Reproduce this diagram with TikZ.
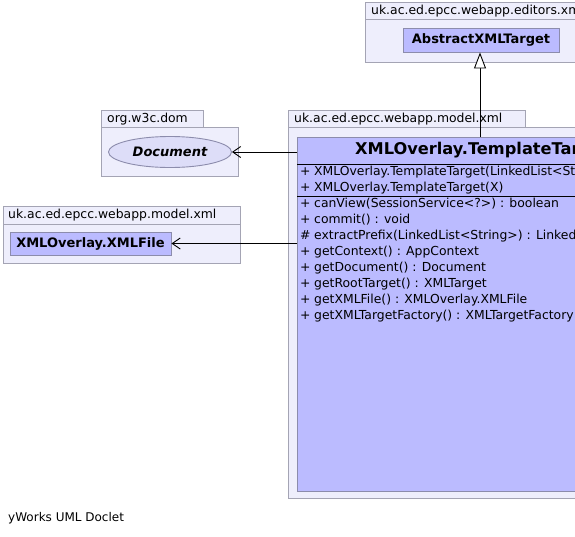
\documentclass[tikz,border=0pt]{standalone}
\usepackage{fontspec}
\setmainfont{DejaVu Sans}
\usetikzlibrary{arrows.meta,positioning,shapes.geometric}
\definecolor{pkgfill}{HTML}{EEEEFC}
\definecolor{pkgline}{HTML}{A4A4B4}
\definecolor{classfill}{HTML}{BBBBFF}
\definecolor{classline}{HTML}{8C8CAC}
\definecolor{ifacefill}{HTML}{DDDDF8}
\newcommand{\umlfont}{\fontsize{12.4}{14}\selectfont}
\newcommand{\umlbold}{\fontsize{13}{15}\selectfont\bfseries}
\tikzset{
  pkgbox/.style={draw=pkgline, fill=pkgfill, line width=0.9pt, anchor=north west, inner sep=0pt},
  pkglabel/.style={anchor=west, inner sep=0pt, font=\umlfont},
  classbox/.style={draw=classline, fill=classfill, line width=0.9pt, inner sep=0pt, font=\umlbold},
  ifacebox/.style={ellipse, draw=classline, fill=ifacefill, line width=0.9pt, inner sep=0pt, font=\umlbold\itshape},
  member/.style={anchor=west, inner sep=0pt, font=\umlfont},
  dep/.style={-{Straight Barb[length=8pt,width=11pt]}, line width=0.9pt},
  gen/.style={-{Triangle[open,length=16pt,width=12pt,fill=white]}, line width=0.9pt}
}
\begin{document}
\begin{tikzpicture}[x=1pt,y=-1pt]
  \clip (0,0) rectangle (575,536);
  \fill[white] (0,0) rectangle (575,536);
  % packages
  \node[pkgbox, minimum width=230pt, minimum height=17pt] (edtab) at (365,2) {};
  \node[pkglabel, right=6pt of edtab.west] (edname) {uk.ac.ed.epcc.webapp.editors.xml};
  \node[pkgbox, minimum width=230pt, minimum height=43pt] (edpkg) at (365,19) {};
  \node[pkgbox, minimum width=102pt, minimum height=17pt] (domtab) at (101,110) {};
  \node[pkglabel, right=6pt of domtab.west] (domname) {org.w3c.dom};
  \node[pkgbox, minimum width=137pt, minimum height=49pt] (dompkg) at (101,127) {};
  \node[pkgbox, minimum width=237pt, minimum height=18pt] (filetab) at (3,206) {};
  \node[pkglabel, right=5pt of filetab.west] (filename) {uk.ac.ed.epcc.webapp.model.xml};
  \node[pkgbox, minimum width=237pt, minimum height=39pt] (filepkg) at (3,224) {};
  \node[pkgbox, minimum width=237pt, minimum height=17pt] (xmltab) at (288,110) {};
  \node[pkglabel, right=6pt of xmltab.west] (xmlname) {uk.ac.ed.epcc.webapp.model.xml};
  \node[pkgbox, minimum width=300pt, minimum height=371pt] (xmlpkg) at (288,127) {};
  % classes
  \node[classbox, minimum width=156pt, minimum height=24pt] (abs) at (481,40) {AbstractXMLTarget};
  \node[ifacebox, minimum width=123pt, minimum height=31pt] (doc) at (170,152) {Document};
  \node[classbox, minimum width=161pt, minimum height=23pt] (file) at (90.5,243.5) {XMLOverlay.XMLFile};
  \node[classbox, anchor=north west, minimum width=330pt, minimum height=354pt] (tt) at (297,137) {};
  \node[anchor=west, inner sep=0pt, font=\fontsize{16.2}{19}\selectfont\bfseries] (ttname) at (355,150) {XMLOverlay.TemplateTarget};
  \draw[line width=0.9pt] (297,164) -- (627,164);
  \draw[line width=0.9pt] (297,196) -- (627,196);
  \foreach \y/\v/\t in {172/+/XMLOverlay.TemplateTarget(LinkedList<String>),
                        188/+/XMLOverlay.TemplateTarget(X),
                        204/+/canView(SessionService<?>) : boolean,
                        220/+/commit() : void,
                        236/\#/extractPrefix(LinkedList<String>) : LinkedList<String>,
                        252/+/getContext() : AppContext,
                        268/+/getDocument() : Document,
                        284/+/getRootTarget() : XMLTarget,
                        300/+/getXMLFile() : XMLOverlay.XMLFile,
                        316/+/getXMLTargetFactory() : XMLTargetFactory}
    \node[member] at (300,\y) {\makebox[14pt][l]{\v}\t};
  % connectors
  \coordinate (ttgen) at (480,137);
  \draw[gen] (ttgen) -- (ttgen |- abs.south);
  \draw[dep] (doc.east -| tt.west) -- (doc.east);
  \draw[dep] (file.east -| tt.west) -- (file.east);
  \node[anchor=west, inner sep=0pt, font=\fontsize{12}{14}\selectfont] (doclet) at (8,518) {yWorks UML Doclet};
\end{tikzpicture}
\end{document}
